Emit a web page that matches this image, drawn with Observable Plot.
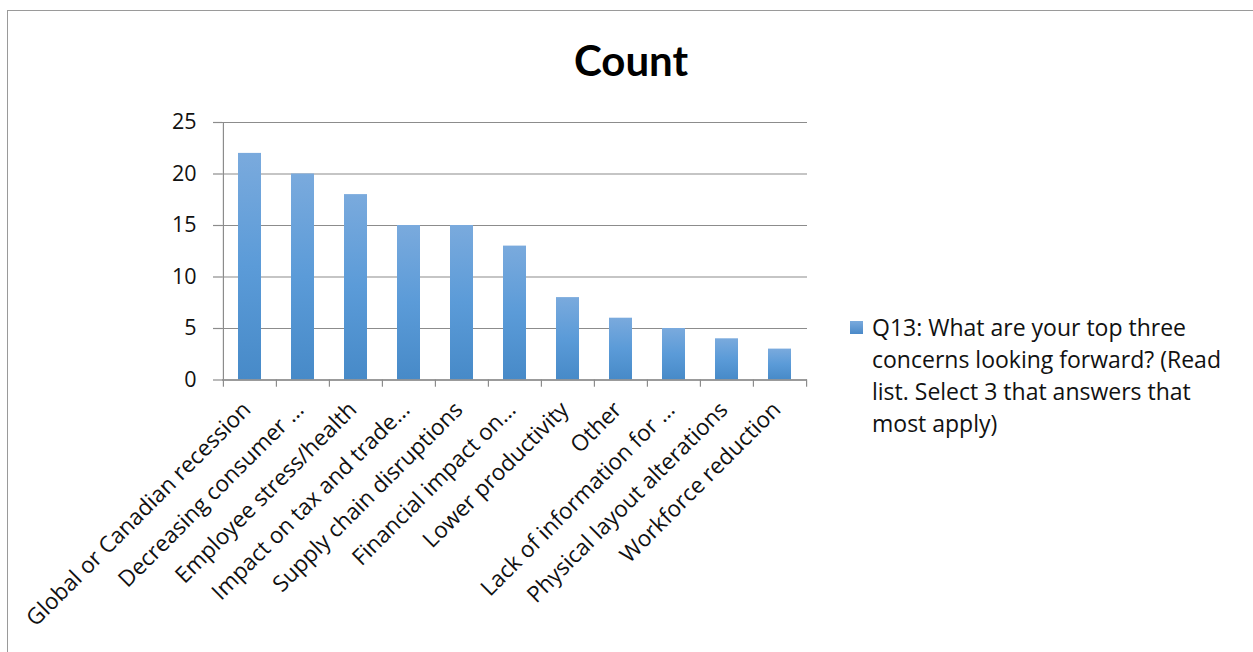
<!DOCTYPE html>
<html>
<head>
<meta charset="utf-8">
<script src="https://cdn.jsdelivr.net/npm/d3@7"></script>
<script src="https://cdn.jsdelivr.net/npm/@observablehq/plot@0.6"></script>
<style>
  html, body { margin: 0; padding: 0; background: #fff; }
  body { width: 1253px; height: 652px; position: relative; overflow: hidden; font-family: "Open Sans", Lato, sans-serif; }
  #frame { position: absolute; left: 7px; top: 10px; width: 1300px; height: 700px; border-left: 1.5px solid #9a9a9a; border-top: 1.5px solid #9a9a9a; box-sizing: border-box; }
  #chart { position: absolute; left: 0; top: 0; }
  #title { position: absolute; left: 0; width: 1262px; top: 35px; text-align: center; font-family: Lato, sans-serif; font-weight: bold; font-size: 42px; color: #000; }
  #legend { position: absolute; left: 850px; top: 311px; font-size: 23px; line-height: 32px; color: #111; }
  #legend .sw { position: absolute; left: 0; top: 10px; width: 13px; height: 13px; background: linear-gradient(#7aaadd, #4a89c8); }
  #legend .txt { position: absolute; left: 22px; top: 0; white-space: nowrap; }
</style>
</head>
<body>
<div id="frame"></div>
<div id="chart"></div>
<div id="title">Count</div>
<div id="legend"><div class="sw"></div><div class="txt" id="legendText"></div></div>
<script>
const categories = [
  "Global or Canadian recession",
  "Decreasing consumer …",
  "Employee stress/health",
  "Impact on tax and trade…",
  "Supply chain disruptions",
  "Financial impact on…",
  "Lower productivity",
  "Other",
  "Lack of information for …",
  "Physical layout alterations",
  "Workforce reduction"
];
const counts = [22, 20, 18, 15, 15, 13, 8, 6, 5, 4, 3];
const yTicks = [0, 5, 10, 15, 20, 25];
const seriesName = "Q13: What are your top three concerns looking forward? (Read list. Select 3 that answers that most apply)";
const legendLines = ["Q13: What are your top three", "concerns looking forward? (Read", "list. Select 3 that answers that", "most apply)"];

const data = categories.map((c, i) => ({category: c, count: counts[i]}));

const W = 1253, H = 652;
const mL = 222, mR = W - 807, mT = 122, mB = H - 379.5;
const step = (W - mL - mR) / categories.length;

const chart = Plot.plot({
  width: W,
  height: H,
  marginLeft: mL,
  marginRight: mR,
  marginTop: mT,
  marginBottom: mB,
  style: {fontFamily: "'Open Sans', Lato, sans-serif", background: "transparent", overflow: "visible"},
  x: {domain: categories, paddingInner: 0.56, paddingOuter: 0.28, label: null},
  y: {domain: [0, 25], label: null},
  marks: [
    Plot.gridY(yTicks, {stroke: "#8c8c8c", strokeOpacity: 1, strokeWidth: 1.2}),
    Plot.barY(data, {x: "category", y: "count", fill: "url(#barGrad)"}),
    Plot.ruleY([0], {stroke: "#8c8c8c", strokeWidth: 1.5}),
    Plot.ruleX([categories[0]], {y1: 0, y2: 25, dx: -step / 2, stroke: "#8c8c8c", strokeWidth: 1.2}),
    Plot.ruleX(categories, {y1: 0, y2: -0.7, dx: -step / 2, stroke: "#8c8c8c", strokeWidth: 1.2}),
    Plot.ruleX([categories[categories.length - 1]], {y1: 0, y2: -0.7, dx: step / 2, stroke: "#8c8c8c", strokeWidth: 1.2}),
    Plot.axisY(yTicks, {tickSize: 9, tickPadding: 17, fontSize: 21.5, stroke: "#8c8c8c", color: "#111", strokeWidth: 1.2}),
    Plot.axisX({tickSize: 0, tickRotate: -45, tickPadding: 26, fontSize: 22.5, color: "#111", textOverflow: null, dx: -3})
  ]
});

// gradient definition for bars
const ns = "http://www.w3.org/2000/svg";
const defs = document.createElementNS(ns, "defs");
const grad = document.createElementNS(ns, "linearGradient");
grad.setAttribute("id", "barGrad");
grad.setAttribute("x1", "0"); grad.setAttribute("y1", "0");
grad.setAttribute("x2", "0"); grad.setAttribute("y2", "1");
[["0%", "#7aaadd"], ["50%", "#5b9bd8"], ["100%", "#478ac8"]].forEach(([o, c]) => {
  const s = document.createElementNS(ns, "stop");
  s.setAttribute("offset", o); s.setAttribute("stop-color", c);
  grad.appendChild(s);
});
defs.appendChild(grad);
chart.insertBefore(defs, chart.firstChild);

document.getElementById("chart").appendChild(chart);
document.getElementById("legendText").innerHTML = legendLines.join("<br>");
</script>
</body>
</html>
